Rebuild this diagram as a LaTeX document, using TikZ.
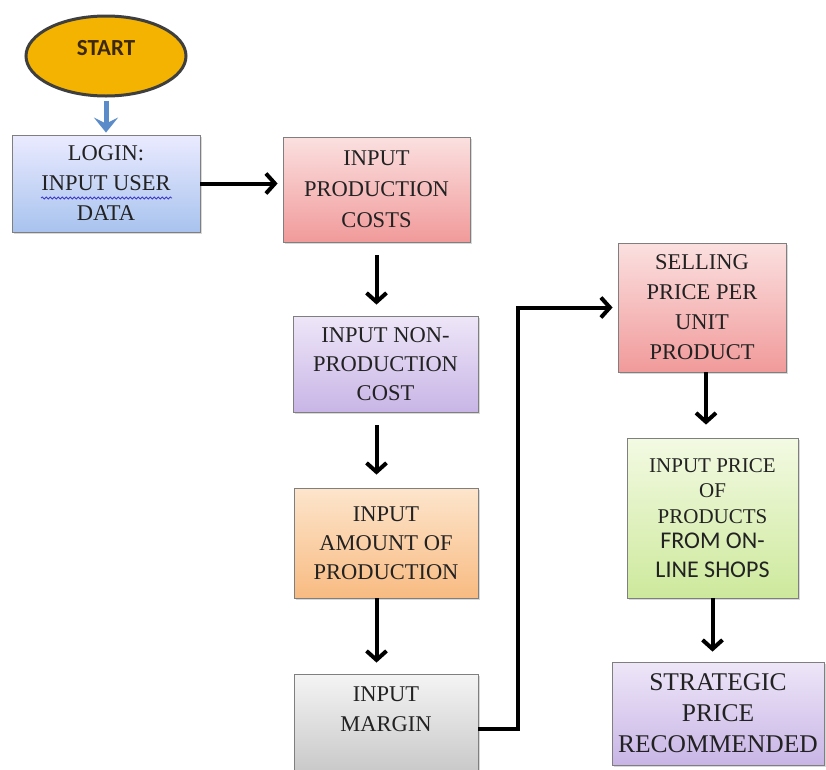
\documentclass[tikz,border=0pt]{standalone}
\usepackage{fontspec}
\setmainfont{Liberation Serif}
\newfontfamily\calibri{Carlito}
\usetikzlibrary{arrows.meta,shadows,decorations.pathmorphing,calc,shapes.geometric}
\definecolor{gold}{HTML}{F3B300}
\definecolor{ringgray}{HTML}{3F3F3F}
\definecolor{bluearrow}{HTML}{5B8BC9}
\definecolor{wavy}{HTML}{3B3BC8}
\definecolor{txt}{HTML}{222222}
\definecolor{bordergray}{HTML}{7F7F7F}
\begin{document}
\begin{tikzpicture}[x=1pt,y=-1pt,
  box/.style={draw=bordergray, line width=0.8pt, rectangle, align=center, text=txt,
    font=\fontsize{22.5}{30}\selectfont, inner sep=0pt,
    drop shadow={shadow xshift=2pt,shadow yshift=-2pt,opacity=0.3,fill=gray}},
  bluebox/.style={box, top color=blue!8!white, bottom color={rgb,255:red,168;green,195;blue,238}},
  redbox/.style={box, top color={rgb,255:red,251;green,224;blue,224}, bottom color={rgb,255:red,241;green,154;blue,154}},
  purplebox/.style={box, top color={rgb,255:red,238;green,230;blue,248}, bottom color={rgb,255:red,200;green,181;blue,230}},
  orangebox/.style={box, top color={rgb,255:red,253;green,229;blue,204}, bottom color={rgb,255:red,248;green,187;blue,130}},
  graybox/.style={box, top color={rgb,255:red,244;green,244;blue,244}, bottom color={rgb,255:red,191;green,191;blue,191}},
  greenbox/.style={box, top color={rgb,255:red,243;green,250;blue,227}, bottom color={rgb,255:red,205;green,233;blue,156}},
  flow/.style={line width=4pt, black, -{Straight Barb[length=9pt,width=20pt]}},
]
\useasboundingbox (0,0) rectangle (826,769);
\clip (0,0) rectangle (826,769);
\fill[white] (0,0) rectangle (826,769);

% start
\node[ellipse, draw=ringgray, line width=3pt, fill=gold, minimum width=160pt, minimum height=80pt,
  inner sep=0pt, text={rgb,255:red,60;green,40;blue,10}, font=\calibri\bfseries\fontsize{23}{26}\selectfont,
  text height=15pt, text depth=17pt] (start) at (106,56) {START};

% boxes
\node[bluebox, minimum width=188pt, minimum height=97pt] (login) at (106,183.5) {LOGIN:\\INPUT USER\\DATA};
\draw[wavy, line width=0.8pt, decorate, decoration={snake, segment length=4pt, amplitude=1pt}]
  ($(login.center)+(-65,14.5)$) -- ($(login.center)+(66,14.5)$);

\node[redbox, minimum width=187pt, minimum height=105pt, font=\fontsize{22.5}{31}\selectfont] (prodcost) at (376.5,189.5) {INPUT\\PRODUCTION\\COSTS};
\node[purplebox, minimum width=185pt, minimum height=96pt, font=\fontsize{22.5}{29}\selectfont] (nonprod) at (385.5,364) {INPUT NON-\\PRODUCTION\\COST};
\node[orangebox, minimum width=184pt, minimum height=110pt, font=\fontsize{22.5}{29}\selectfont] (amount) at (386,543) {INPUT\\AMOUNT OF\\PRODUCTION};
\node[graybox, minimum width=184pt, minimum height=120pt, text depth=50pt] (margin) at (386,734) {INPUT\\MARGIN};

\node[redbox, minimum width=168pt, minimum height=129pt] (selling) at (702,307.5) {SELLING\\PRICE PER\\UNIT\\PRODUCT};
\node[greenbox, minimum width=171pt, minimum height=160pt, font=\fontsize{21}{25.5}\selectfont] (green) at (712.5,518)
  {INPUT PRICE\\OF\\PRODUCTS\\{\calibri\fontsize{24}{25.5}\selectfont FROM ON-}\\[3pt]{\calibri\fontsize{24}{25.5}\selectfont LINE SHOPS}};
\node[purplebox, minimum width=212pt, minimum height=103pt, font=\fontsize{25.5}{31}\selectfont] (strategic) at (718,713.5) {STRATEGIC\\PRICE\\RECOMMENDED};

% connectors
\draw[bluearrow, line width=5pt, -{Stealth[length=15pt,width=24pt,inset=6pt]}, shorten <=3pt, shorten >=2pt]
  (start.south) -- (login.north);
\draw[flow, shorten >=5pt] (login.east) -- (login.east -| prodcost.west);
\draw[flow, shorten <=13pt, shorten >=11pt] (prodcost.south) -- (prodcost.south |- nonprod.north);
\draw[flow, shorten <=13pt, shorten >=13pt] (prodcost.south |- nonprod.south) -- (prodcost.south |- amount.north);
\draw[flow, shorten >=11pt] (prodcost.south |- amount.south) -- (prodcost.south |- margin.north);
\coordinate (m1) at ($(margin.north east)+(0,55)$);
\draw[flow, shorten >=5pt] (m1) -- ++(40,0) |- (selling.west);
\coordinate (s1) at ($(selling.south)+(4,0)$);
\draw[flow, shorten >=13pt] (s1) -- (s1 |- green.north);
\draw[flow, shorten >=10pt] (green.south) -- (green.south |- strategic.north);
\end{tikzpicture}
\end{document}
